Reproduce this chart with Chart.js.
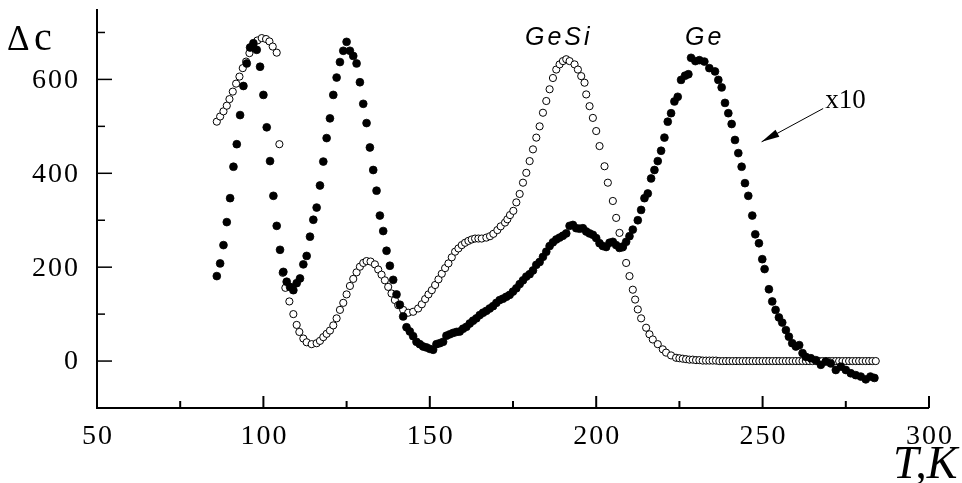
<!DOCTYPE html>
<html>
<head>
<meta charset="utf-8">
<script src="https://cdn.jsdelivr.net/npm/chart.js@4.4.1/dist/chart.umd.min.js"></script>
<style>
  body { margin: 0; background: #fff; }
  canvas { display: block; }
</style>
</head>
<body>
<canvas id="chart" width="962" height="483"></canvas>
<script>
// Ge (filled circles)
const geT = [86,87,88,89,90,91,92,93,94,95,96,97,98,99,100,101,102,103,104,105,
  106,107,108,109,110,111,112,113,114,115,116,117,118,119,120,121,122,123,124,125,
  126,127,128,129,130,131,132,133,134,135,136,137,138,139,140,141,142,143,144,145,
  146,147,148,149,150,151,152,153,154,155,156,157,158,159,160,161,162,163,164,165,
  166,167,168,169,170,171,172,173,174,175,176,177,178,179,180,181,182,183,184,185,
  186,187,188,189,190,191,192,193,194,195,196,197,198,199,200,201,202,203,204,205,
  206,207,208,209,210,211,
  212.5,213.5,214.5,215.5,216.5,217.5,218.5,219.5,220.5,221.5,222.5,223.5,224.5,225.5,
  226.7,227.7,228.5,229.8,231,232.5,234,235.7,
  236.7,237.7,238.7,239.7,240.7,241.7,242.7,243.7,244.7,245.7,
  246.9,247.8,248.9,249.9,250.6,251.9,252.9,253.9,254.9,255.9,
  257,257.9,258.9,260,261,262,263,264.5,266,267.5,
  269,270.5,272,273.5,275,276.5,278,279.5,281,282.4,283.6];
const geDc = [181,208,247,296,347,414,462,524,586,634,668,677,663,627,567,498,426,352,288,237,
  190,169,158,151,166,176,206,224,265,301,327,374,425,475,517,567,604,637,661,680,
  661,650,634,594,548,507,455,407,363,310,277,235,203,173,142,120,95,72,63,53,
  41,36,31,29,26,24,36,38,41,54,57,60,62,63,69,73,80,86,91,98,
  103,107,112,117,124,130,133,137,141,148,155,164,172,180,185,193,205,211,222,233,
  245,253,259,263,267,272,288,290,283,282,283,276,272,269,262,251,245,243,252,254,
  247,241,244,254,266,280,
  300,322,347,357,389,407,426,448,476,510,528,553,563,599,
  608,611,646,639,641,638,624,617,
  599,583,550,528,505,471,443,414,379,352,
  310,270,251,217,196,153,127,109,93,82,
  66,52,38,31,34,17,9,6,2,-8,
  -1,-5,-19,-12,-19,-26,-30,-33,-39,-33,-36];

// GeSi (open circles)
const gesiT = [86,87,88,89,89.8,90.8,91.8,92.8,93.8,94.8,95.8,97,
  98.2,99.5,100.8,101.8,102.8,104,104.8,105.8,106.6,107.8,109,110,110.8,112,113,114.5,116,117,118,119,
  120,121,122,123,124,125,126,127,128,129,130,131,
  132.2,133.5,134.5,135.5,136.5,137.5,138.5,139.5,140.5,142,143.5,145,146.5,147.6,
  148.6,149.6,150.6,151.6,152.6,153.6,154.6,155.6,156.6,157.6,158.6,159.6,160.6,161.6,162.6,163.6,164.6,165.6,
  167,168.1,169.1,170.3,171.3,172.6,173.3,174.1,175.1,
  176,177,178,179,180,181,182,183,184,185,186,187,188,189,190,191,192,
  193.5,194.5,195.5,196.5,197,198,199,200,201,202.5,203.5,205,206,207,208,209,210,211,
  211.7,212.5,213.5,215,216,217,218.5,220,221,222.5,224,
  225,226,227,228,229,230,231,232,233,
  234,235,236,237,238,239,240,241,242,243,244,245,246,247,248,249,250,251,252,253,
  254,255,256,257,258,259,260,261,262,263,264,265,266,267,268,269,270,271,272,273,
  274,275,276,277,278,279,280,281,282,283,284];
const gesiDc = [510,521,532,544,558,574,591,606,624,638,656,670,
  683,688,686,681,670,657,462,188,156,127,100,77,62,48,40,36,38,43,51,58,
  65,76,91,109,124,142,160,175,189,201,209,213,
  212,206,195,184,172,158,144,130,119,109,103,105,112,121,
  132,142,151,162,174,186,198,208,221,233,240,247,252,256,259,261,261,261,
  263,266,271,279,287,295,302,311,320,
  338,356,380,401,426,451,476,500,529,554,579,603,621,632,639,643,639,
  632,621,607,593,568,543,518,490,458,415,380,341,305,273,242,209,181,152,
  131,110,91,71,57,46,36,25,18,12,7,
  6,5,4,3,3,2,2,1,1,
  1,1,1,0,0,0,0,0,0,0,0,0,0,0,0,0,0,0,0,0,
  0,0,0,0,0,0,0,0,0,0,0,0,0,0,0,0,0,0,0,0,
  0,0,0,0,0,0,0,0,0,0,0];

const xTickStep = 25;
const yTickStep = 100;

const toPoints = (xs, ys) => xs.map((x, i) => ({ x: x, y: ys[i] }));

// axes with inward ticks, tick labels and the text on the plot
const framePlugin = {
  id: "frame",
  afterDraw(chart) {
    const ctx = chart.ctx;
    const area = chart.chartArea;
    const xs = chart.scales.x;
    const ys = chart.scales.y;
    ctx.save();
    ctx.strokeStyle = "#000";
    ctx.fillStyle = "#000";

    ctx.lineWidth = 2;
    ctx.beginPath();
    ctx.moveTo(area.left, area.top);
    ctx.lineTo(area.left, area.bottom);
    ctx.lineTo(area.right, area.bottom);
    ctx.stroke();

    ctx.font = '28px "Liberation Serif"';
    ctx.letterSpacing = "2px";

    // x ticks
    ctx.textAlign = "center";
    ctx.textBaseline = "alphabetic";
    xs.ticks.forEach(t => {
      if (t.value % xTickStep !== 0) return;
      const px = xs.getPixelForValue(t.value);
      const major = t.value % (2 * xTickStep) === 0;
      ctx.lineWidth = 2;
      ctx.beginPath();
      ctx.moveTo(px, area.bottom);
      ctx.lineTo(px, area.bottom - (major ? 12 : 7));
      ctx.stroke();
      if (major) ctx.fillText(String(t.value), px + 1, area.bottom + 36);
    });

    // y ticks
    ctx.textAlign = "right";
    ctx.textBaseline = "middle";
    ys.ticks.forEach(t => {
      if (t.value % yTickStep !== 0 || t.value <= ys.min) return;
      const py = ys.getPixelForValue(t.value);
      const major = t.value % (2 * yTickStep) === 0;
      ctx.lineWidth = 1.5;
      ctx.beginPath();
      ctx.moveTo(area.left, py);
      ctx.lineTo(area.left + (major ? 15 : 8), py);
      ctx.stroke();
      if (major) ctx.fillText(String(t.value), area.left - 17, py + 1);
    });

    // axis titles
    ctx.letterSpacing = "0px";
    ctx.textAlign = "left";
    ctx.textBaseline = "alphabetic";
    ctx.font = '35px "Liberation Serif"';
    ctx.fillText("\u0394", area.left - 90, area.top + 41);
    ctx.font = '40px "Liberation Serif"';
    ctx.fillText("c", area.left - 63, area.top + 41);
    ctx.font = 'italic 46px "Liberation Serif"';
    ctx.fillText("T,K", area.right - 36, area.bottom + 70);

    // series labels
    ctx.font = 'italic 25px "Liberation Sans"';
    ctx.letterSpacing = "3px";
    ctx.fillText("GeSi", xs.getPixelForValue(178.6), ys.getPixelForValue(673));
    ctx.fillText("Ge", xs.getPixelForValue(226.7), ys.getPixelForValue(673));

    // x10 note with arrow
    ctx.letterSpacing = "0px";
    ctx.font = '27px "Liberation Serif"';
    ctx.fillText("x10", xs.getPixelForValue(268.8), ys.getPixelForValue(539));
    const x0 = xs.getPixelForValue(268.2), y0 = ys.getPixelForValue(538);
    const x1 = xs.getPixelForValue(249.7), y1 = ys.getPixelForValue(467);
    const ang = Math.atan2(y1 - y0, x1 - x0);
    ctx.lineWidth = 1;
    ctx.beginPath();
    ctx.moveTo(x0, y0);
    ctx.lineTo(x1, y1);
    ctx.stroke();
    const hl = 18, hw = 4;
    ctx.beginPath();
    ctx.moveTo(x1, y1);
    ctx.lineTo(x1 - hl * Math.cos(ang) + hw * Math.sin(ang), y1 - hl * Math.sin(ang) - hw * Math.cos(ang));
    ctx.lineTo(x1 - hl * Math.cos(ang) - hw * Math.sin(ang), y1 - hl * Math.sin(ang) + hw * Math.cos(ang));
    ctx.closePath();
    ctx.fill();

    ctx.restore();
  }
};

const myChart = new Chart(document.getElementById("chart"), {
  type: "scatter",
  data: {
    datasets: [
      {
        label: "Ge",
        data: toPoints(geT, geDc),
        backgroundColor: "#000",
        borderColor: "#000",
        borderWidth: 0.8,
        pointRadius: 3.9,
      },
      {
        label: "GeSi",
        data: toPoints(gesiT, gesiDc),
        backgroundColor: "#fff",
        borderColor: "#000",
        borderWidth: 1,
        pointRadius: 3.6,
      },
    ],
  },
  options: {
    responsive: false,
    animation: false,
    devicePixelRatio: 1,
    events: [],
    layout: { padding: { top: 9, right: 33, left: 0, bottom: 0 } },
    plugins: {
      legend: { display: false },
      tooltip: { enabled: false },
    },
    scales: {
      x: {
        type: "linear",
        min: 50,
        max: 300,
        ticks: { display: false, stepSize: xTickStep },
        grid: { display: false },
        border: { display: false },
        afterFit: s => { s.height = 75; },
      },
      y: {
        type: "linear",
        min: -100,
        max: 750,
        ticks: { display: false, stepSize: yTickStep },
        grid: { display: false },
        border: { display: false },
        afterFit: s => { s.width = 97; },
      },
    },
  },
  plugins: [framePlugin],
});
</script>
</body>
</html>
